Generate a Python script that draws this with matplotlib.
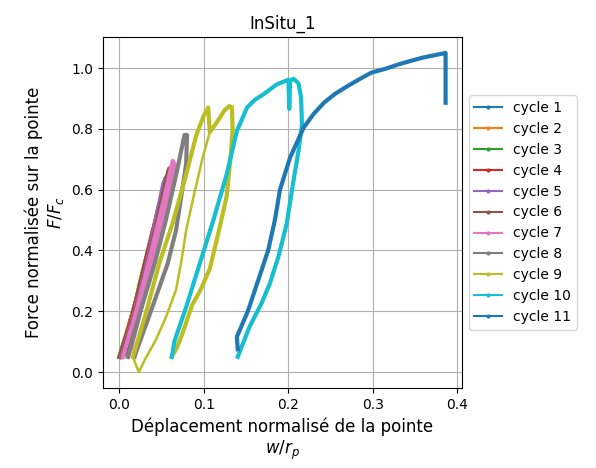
import matplotlib
matplotlib.use('Agg')
from matplotlib import pyplot as plt
from matplotlib.lines import Line2D

# cycles (w/r_p, F/F_c), loading then unloading
x1 = [0.000, 0.012, 0.024, 0.030, 0.026, 0.014, 0.004]
y1 = [0.050, 0.160, 0.270, 0.320, 0.300, 0.180, 0.060]
x2 = [0.000, 0.014, 0.028, 0.038, 0.034, 0.020, 0.005]
y2 = [0.050, 0.180, 0.320, 0.420, 0.400, 0.240, 0.060]
x3 = [0.000, 0.014, 0.030, 0.044, 0.040, 0.024, 0.006]
y3 = [0.050, 0.170, 0.330, 0.490, 0.470, 0.290, 0.060]
x4 = [0.001, 0.016, 0.032, 0.049, 0.046, 0.030, 0.008]
y4 = [0.050, 0.190, 0.360, 0.560, 0.540, 0.350, 0.060]
x5 = [0.002, 0.018, 0.035, 0.055, 0.052, 0.034, 0.009]
y5 = [0.050, 0.200, 0.380, 0.640, 0.620, 0.380, 0.060]
x6 = [0.003, 0.019, 0.037, 0.059, 0.057, 0.037, 0.010]
y6 = [0.050, 0.200, 0.390, 0.670, 0.650, 0.400, 0.060]
x7 = [0.004, 0.020, 0.038, 0.052, 0.063, 0.066, 0.056, 0.038, 0.014, 0.010]
y7 = [0.050, 0.200, 0.400, 0.560, 0.695, 0.680, 0.550, 0.350, 0.080, 0.050]
x8 = [0.010, 0.025, 0.042, 0.055, 0.068, 0.077, 0.080, 0.079, 0.073, 0.067,
      0.057, 0.039, 0.019, 0.018]
y8 = [0.050, 0.200, 0.360, 0.500, 0.660, 0.780, 0.780, 0.684, 0.575, 0.466,
      0.356, 0.214, 0.060, 0.050]
x9 = [0.016, 0.031, 0.047, 0.063, 0.079, 0.091, 0.100, 0.105, 0.107, 0.115,
      0.124, 0.130, 0.133, 0.134, 0.132, 0.127, 0.119, 0.107, 0.096, 0.086,
      0.075, 0.068, 0.062]
y9 = [0.050, 0.190, 0.356, 0.490, 0.650, 0.780, 0.845, 0.870, 0.790, 0.820,
      0.860, 0.875, 0.872, 0.800, 0.720, 0.580, 0.480, 0.340, 0.270, 0.220,
      0.130, 0.080, 0.050]
x9_thin = [0.016, 0.020, 0.023, 0.030, 0.043, 0.055, 0.067, 0.073, 0.079,
           0.088, 0.098, 0.107]
y9_thin = [0.050, 0.020, 0.000, 0.040, 0.105, 0.180, 0.270, 0.360, 0.466,
           0.580, 0.700, 0.790]
x10 = [0.062, 0.065, 0.079, 0.095, 0.111, 0.127, 0.139, 0.151, 0.160, 0.170,
       0.186, 0.200, 0.201, 0.202, 0.206, 0.212, 0.215, 0.216, 0.212, 0.206,
       0.198, 0.188, 0.178, 0.168, 0.154, 0.140]
y10 = [0.050, 0.100, 0.214, 0.356, 0.498, 0.651, 0.793, 0.870, 0.895, 0.913,
       0.946, 0.962, 0.866, 0.958, 0.965, 0.950, 0.903, 0.815, 0.728, 0.630,
       0.488, 0.378, 0.291, 0.225, 0.149, 0.050]
x11 = [0.140, 0.139, 0.152, 0.164, 0.176, 0.184, 0.190, 0.202, 0.218, 0.230,
       0.242, 0.255, 0.270, 0.285, 0.298, 0.315, 0.330, 0.345, 0.358, 0.372,
       0.386, 0.386]
y11 = [0.075, 0.116, 0.200, 0.300, 0.400, 0.500, 0.600, 0.706, 0.804, 0.850,
       0.886, 0.915, 0.941, 0.965, 0.985, 0.998, 1.012, 1.024, 1.034, 1.042,
       1.050, 0.886]

xs = [x1, x2, x3, x4, x5, x6, x7, x8, x9, x10, x11]
ys = [y1, y2, y3, y4, y5, y6, y7, y8, y9, y10, y11]
labels = ['cycle %d' % (i + 1) for i in range(len(xs))]
colors = ['C%d' % (i % 10) for i in range(len(xs))]

fig = plt.figure(figsize=(5.96, 4.68), dpi=100)
ax = fig.add_axes([0.173, 0.171, 0.602, 0.750])

handles = []
for x, y, lab, c in zip(xs, ys, labels, colors):
    ax.plot(x, y, '-', color=c, lw=3, solid_joinstyle='round')
    if lab == 'cycle 9':
        ax.plot(x9_thin, y9_thin, '-', color=c, lw=1.8)
    handles.append(Line2D([], [], color=c, lw=1.5, marker='.', markersize=4))

ax.grid(True)
ax.set_title('InSitu_1', fontsize=12)
ax.set_xlabel('Déplacement normalisé de la pointe\n$w/r_p$', fontsize=12)
ax.set_ylabel('Force normalisée sur la pointe\n$F/F_c$', fontsize=12)
ax.legend(handles, labels, loc='center left', bbox_to_anchor=(1.0, 0.5),
          fontsize=10)

fig.savefig('out.png', dpi=100)
